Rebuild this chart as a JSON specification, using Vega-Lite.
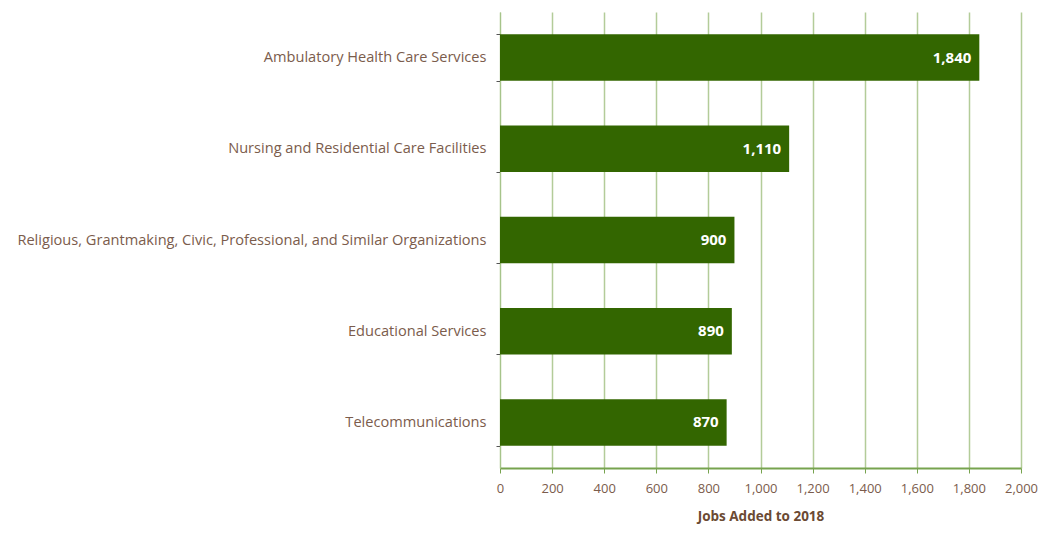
{
  "$schema": "https://vega.github.io/schema/vega-lite/v6.json",
  "width": 521,
  "height": 456,
  "autosize": {"type": "none"},
  "padding": {"left": 500, "top": 12, "right": 20, "bottom": 76},
  "background": "white",
  "config": {"view": {"stroke": null}, "font": "Open Sans"},
  "data": {
    "values": [
      {"industry": "Ambulatory Health Care Services", "jobs": 1840},
      {"industry": "Nursing and Residential Care Facilities", "jobs": 1110},
      {"industry": "Religious, Grantmaking, Civic, Professional, and Similar Organizations", "jobs": 900},
      {"industry": "Educational Services", "jobs": 890},
      {"industry": "Telecommunications", "jobs": 870}
    ]
  },
  "encoding": {
    "y": {
      "field": "industry",
      "type": "nominal",
      "sort": null,
      "scale": {"paddingInner": 0.49, "paddingOuter": 0.245},
      "axis": {
        "title": null,
        "tickBand": "extent",
        "domain": true,
        "domainColor": "#a6c48a",
        "tickColor": "#555555",
        "tickSize": 4,
        "labelColor": "#7b5c4c",
        "labelFontSize": 14.6,
        "labelPadding": 10,
        "labelLimit": 600
      }
    },
    "x": {
      "field": "jobs",
      "type": "quantitative",
      "scale": {"domain": [0, 2000], "nice": false},
      "axis": {
        "values": [0, 200, 400, 600, 800, 1000, 1200, 1400, 1600, 1800, 2000],
        "format": ",d",
        "labelFlush": false,
        "labelOverlap": false,
        "title": "Jobs Added to 2018",
        "titleColor": "#6b4a33",
        "titleFontSize": 13.5,
        "titleFontWeight": "bold",
        "titlePadding": 14,
        "grid": true,
        "gridColor": "#b3cc99",
        "gridWidth": 1.5,
        "domainColor": "#77a34f",
        "domainWidth": 2,
        "tickColor": "#77a34f",
        "tickSize": 5,
        "labelColor": "#7b5c4c",
        "labelFontSize": 13,
        "labelPadding": 9
      }
    }
  },
  "layer": [
    {"mark": {"type": "bar", "color": "#336600"}},
    {
      "mark": {"type": "text", "align": "right", "dx": -8, "color": "white", "fontWeight": "bold", "fontSize": 15},
      "encoding": {"text": {"field": "jobs", "type": "quantitative", "format": ",d"}}
    }
  ]
}
